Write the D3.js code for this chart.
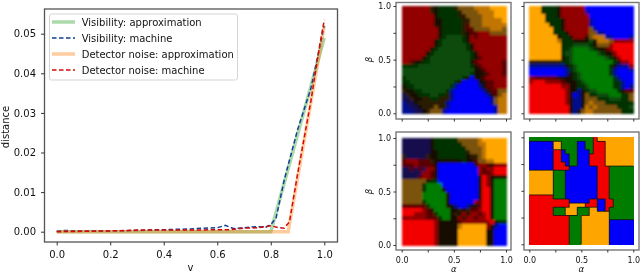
<!DOCTYPE html>
<html>
<head>
<meta charset="utf-8">
<script src="https://d3js.org/d3.v7.min.js"></script>
<style>
  html, body { margin: 0; padding: 0; background: #fff; }
  svg { display: block; font-family: "DejaVu Sans", sans-serif; filter: blur(0.4px); }
  .tick line { stroke: #333; }
  .tick text { fill: #111; }
</style>
</head>
<body>
<div id="chart"></div>
<script>
// line chart values
var visApproxV = [0, 0.8, 1];
var visApproxD = [0, 0, 0.049];
var detApproxV = [0, 0.865, 1];
var detApproxD = [0, 0, 0.052];

var visMachineV = [0, 0.02, 0.1, 0.2, 0.3, 0.4, 0.45, 0.5, 0.55, 0.6, 0.63, 0.66, 0.7, 0.75, 0.78, 0.8, 0.82, 0.85, 0.9, 0.95, 1];
var visMachineD = [0.0001, 0.0003, 0.0002, 0.0002, 0.0003, 0.0005, 0.0006, 0.0007, 0.0009, 0.001, 0.0016, 0.0008, 0.001, 0.0013, 0.0011, 0.0018, 0.0035, 0.013, 0.0257, 0.0362, 0.052];
var detMachineV = [0, 0.1, 0.2, 0.3, 0.4, 0.5, 0.6, 0.65, 0.7, 0.75, 0.8, 0.83, 0.85, 0.87, 0.9, 0.95, 0.98, 1];
var detMachineD = [0, 0.0001, 0.0002, 0.0004, 0.0004, 0.0004, 0.0005, 0.0005, 0.0009, 0.001, 0.0015, 0.001, 0.0009, 0.0025, 0.0145, 0.033, 0.046, 0.0535];

var vTicks = [0, 0.2, 0.4, 0.6, 0.8, 1];
var distTicks = [0, 0.01, 0.02, 0.03, 0.04, 0.05];
var legendLabels = ["Visibility: approximation", "Visibility: machine", "Detector noise: approximation", "Detector noise: machine"];

// heatmap cells, one letter per cell, top row is beta = 1
var palette = {
  r: "#f20000", d: "#920606", m: "#5a0404",
  g: "#007c00", h: "#0b4c0b", j: "#063006",
  b: "#0000fa", n: "#000a8c", u: "#12104e",
  o: "#ffa500", p: "#c07602", q: "#7c520e",
  k: "#140804", s: "#2a1a05"
};

var gridA = [
  "dddddddskjjjjsqqqqppppoooo",
  "dddddddskjjjjjsqqqqppppooo",
  "ddddddddkjjjjjssqqqqpppooo",
  "ddddddddkkjjjjjssqqqpppppo",
  "ddddddddkkjjjjjsmqqqpppppp",
  "dddddddddkjjjjjsmmqqqqpppq",
  "dddddddddkjjjjjskmmdddqqqq",
  "dddddddddkjhhhhjkdmddddddd",
  "ddddddddkjhhhhhjkddddddddd",
  "ddddddddkjhhhhhhjkdddddddd",
  "dddddddkjhhhhhhhjkdddddddd",
  "ddddddkjhhhhhhhhhjkddddddd",
  "dddddkjhhhhhhhhhhjkmdddddd",
  "ddmkkjjhhhhhhhhhhkmddddddm",
  "jjjjhhhhhhhhhhhhhjkmdddddm",
  "hhhhhhhhhhhhhhhhhhkkmddddm",
  "hhhhhhhhhhhhhhhhhjkkkmdddm",
  "jhhhhhhhhhhhhhhjkbkkmddddd",
  "jjhhhhhhhhhhhjkbbbbkkmmddd",
  "kjjhhhhhhhhhjnbbbbbnkmmddd",
  "skkjjhhhhhhjnbbbbbbbnkmmqq",
  "uskkjjjhhjjsnbbbbbbbbnkmqp",
  "uuskkssjjsssnbbbbbbbbbnqpp",
  "nuuksssssssnbbbbbbbbbbnqpp",
  "nnuuksssqssnbbbbbbbbbbbnpp",
  "nnnuuksqqqnbbbbbbbbbbbbnpp"
];
var gridB = [
  "ooojjjjkddddddbbbbbbbbbbbb",
  "ooojjjjkddddddnbbbbbbbbbbb",
  "oooojjjkdddddddbbbbbbbbbbb",
  "oooojjjjkddddddnbbbbbbbbbb",
  "ooooojjjkddddddnbbbbbbbbbb",
  "oooooojjkddddddqnbbbbbbbbb",
  "oooooojjjkdddddqqnnbbbbbbb",
  "oooooookjjkdddkqpppnnbbbbn",
  "ooooooopjjjkkkkhkpppqddddd",
  "oooooooojjjhhhhjkqqqdrrrrr",
  "oooooooojjhgggghjkkmdrrrrr",
  "oooooooojhhgggggghjkkdrrrr",
  "ooooooookjhgggggggghjkdrrr",
  "ssssssssjjhggggggggggjkddr",
  "nnnnnnnnnkjhggggggggjknnnd",
  "bbbbbbbbbnjhggggggggjnbbbn",
  "bbbbbbbbbnkjhgggggggjnbbbb",
  "dmmmmmmkkkkjhggggggggjnbbb",
  "drrrddddmkkkjhgggggggjjnbb",
  "rrrrrrrrddkkjjhggggggjjnbn",
  "rrrrrrrrrdkknkjhhgggggjkmm",
  "rrrrrrrrrdkbnkqjjhhhgggjjq",
  "rrrrrrrrrdknnkqqqjjjhhhjjq",
  "rrrrrrrrrdknnkqpqqqjjjjjjj",
  "rrrrrrrrrrknnkpqpqqqqqjjjh",
  "rrrrrrrrrrknkqppqqqqqqqjjj"
];
var gridC = [
  "uuuuuuukjjjjjjqqqqqpoooooo",
  "uuuuuuukjjjjjjjqqqqppooooo",
  "uuuuuuukjjjjjjjjqqqqpooooo",
  "uuuuuuukkjjjjjjjsqqqpooooo",
  "suuuuuskkjjjjjjjkssqpooooo",
  "mdddmmmskkkkkkkjkkmqqppooo",
  "mmmdmmmmkbbbbbbbbbkddmkddd",
  "uumumuddkbbbbbbbbbbdmddrrr",
  "uuuuuddmkbbbbbbbbbbdmmdrrr",
  "uuuumddmkbbbbbbbbbbkrdkkkk",
  "qqqqqqkjjbbbbbbbbbbkrdkggg",
  "qqqqqjggggbbbbbbbbbkrdkggg",
  "qqqqqjggggkbbbbbbbbkrrkggg",
  "qqqqqggggggkbbbbbbbkrrkggg",
  "qqqqqggggggkbbbbbbbkrrkggg",
  "qqqqqjgggggkbbbbbbdmrrkggg",
  "mmmmmmjggggkknbbnkkmrrkggg",
  "rrrrrdmkggggkksksmmdrrkggg",
  "rrrdddmmjgggkskdkddmdrkggg",
  "ddddddmmmjggkkdkddmddrkggg",
  "rrrrrrrrdkkkkkmdddddddrkjj",
  "rrrrrrrrdkkkkkpoooooodknbb",
  "rrrrrrrrdkkkkkoooooookkbbb",
  "rrrrrrrrdkkkkkoooooookkbbb",
  "rrrrrrrrdkkkkkoooooookkbbb",
  "rrrrrrrrdkkkkkoooooookkbbb"
];
var gridD = [
  "ggggggggggggggggrooooooooo",
  "bbbbbbooggggbbggrrrooooooo",
  "bbbbbbooggggbbggrrrooooooo",
  "bbbbbbrrbgggbbbgrrrooooooo",
  "bbbbbbrrbbggbbbrrrrooooooo",
  "bbbbbbrrbbggbbbrrrrooooooo",
  "bbbbbbrrrbggbbbrrrrooooooo",
  "bbbbbbrrrrbbbbbbbrrrgggggg",
  "oooooogggbbbbbbbbrrrgggggg",
  "oooooogggbbbbbbbbrrrgggggg",
  "oooooogggbbbbbbbbrrrgggggg",
  "oooooogggbbbbbbbbrrrgggggg",
  "oooooogggbbbbbbbbrrrgggggg",
  "oooooogggbbbbbbbbrrrgggggg",
  "rrrrrrgggbbbbbbbbrrrgggggg",
  "rrrrrrrrrrbbbbbrrbbrrggggg",
  "rrrrrrrrrroooorrrbbrrggggg",
  "rrrrrrgggooogggoobbrgggggg",
  "rrrrrrgggooogggooooogggggg",
  "rrrrrrrrrrgggooooooogggggg",
  "rrrrrrrrrrgggooooooobbbbbb",
  "rrrrrrrrrrgggooooooobbbbbb",
  "rrrrrrrrrrgggooooooobbbbbb",
  "rrrrrrrrrrgggooooooobbbbbb",
  "rrrrrrrrrrgggooooooobbbbbb",
  "rrrrrrrrrrgggooooooobbbbbb"
];
var unitTicks = [0, 0.25, 0.5, 0.75, 1];
var unitLabels = [0, 0.5, 1];

var svg = d3.select("#chart")
  .append("svg")
    .attr("width", 640)
    .attr("height", 274);

// left line chart
var x = d3.scaleLinear().domain([0, 1]).range([56.7, 324.3]);
var y = d3.scaleLinear().domain([0, 0.05]).range([231.7, 33.7]);

svg.append("rect")
  .attr("x", 44.5).attr("y", 9)
  .attr("width", 293).attr("height", 233)
  .attr("fill", "none")
  .attr("stroke", "#555")
  .attr("stroke-width", 1.3);

svg.append("g")
    .attr("transform", "translate(0,242)")
    .call(d3.axisBottom(x).tickValues(vTicks).tickFormat(d3.format(".1f")).tickSize(3.5).tickPadding(5.5))
    .call(function(g) { g.select(".domain").remove(); })
    .attr("font-family", null)
    .attr("font-size", 10);

svg.append("g")
    .attr("transform", "translate(44.5,0)")
    .call(d3.axisLeft(y).tickValues(distTicks).tickFormat(d3.format(".2f")).tickSize(3.5).tickPadding(5))
    .call(function(g) { g.select(".domain").remove(); })
    .attr("font-family", null)
    .attr("font-size", 10);

svg.append("text")
  .attr("transform", "translate(9,127) rotate(-90)")
  .attr("text-anchor", "middle")
  .attr("font-size", 10)
  .attr("fill", "#111")
  .text("distance");

svg.append("text")
  .attr("x", 190.5).attr("y", 271)
  .attr("text-anchor", "middle")
  .attr("font-size", 10)
  .attr("fill", "#111")
  .text("v");

var line = d3.line()
  .x(function(d) { return x(d[0]); })
  .y(function(d) { return y(d[1]); });

var lines = [
  {v: visApproxV, d: visApproxD, color: "#2ca02c", width: 3.5, opacity: 0.4, dash: null},
  {v: visMachineV, d: visMachineD, color: "#123f96", width: 1.5, opacity: 1, dash: "4.5,2.5"},
  {v: detApproxV, d: detApproxD, color: "#ff7f0e", width: 3.5, opacity: 0.4, dash: null},
  {v: detMachineV, d: detMachineD, color: "#d40808", width: 1.5, opacity: 1, dash: "4.5,2.5"}
];

svg.append("g")
  .selectAll("path")
  .data(lines)
  .enter()
  .append("path")
    .attr("d", function(s) { return line(d3.zip(s.v, s.d)); })
    .attr("fill", "none")
    .attr("stroke", function(s) { return s.color; })
    .attr("stroke-width", function(s) { return s.width; })
    .attr("stroke-opacity", function(s) { return s.opacity; })
    .attr("stroke-dasharray", function(s) { return s.dash; });

// legend
svg.append("rect")
  .attr("x", 49.5).attr("y", 14)
  .attr("width", 188).attr("height", 66)
  .attr("rx", 2)
  .attr("fill", "#fff")
  .attr("fill-opacity", 0.8)
  .attr("stroke", "#d5d5d5");

var legendRow = d3.scalePoint().domain(d3.range(4)).range([22, 70]);

var legend = svg.append("g")
  .selectAll("g")
  .data(lines)
  .enter()
  .append("g")
    .attr("transform", function(s, i) { return "translate(0," + legendRow(i) + ")"; });

legend.append("line")
  .attr("x1", 52).attr("x2", 75)
  .attr("stroke", function(s) { return s.color; })
  .attr("stroke-width", function(s) { return s.width; })
  .attr("stroke-opacity", function(s) { return s.opacity; })
  .attr("stroke-dasharray", function(s) { return s.dash; });

legend.append("text")
  .attr("x", 81.7).attr("y", 3.5)
  .attr("font-size", 10)
  .attr("fill", "#111")
  .text(function(s, i) { return legendLabels[i]; });

// heatmaps
var defs = svg.append("defs");
[["blur12", 1.2], ["blur09", 0.9], ["blur04", 0.4]].forEach(function(f) {
  defs.append("filter").attr("id", f[0])
      .attr("x", "-2%").attr("y", "-2%").attr("width", "104%").attr("height", "104%")
    .append("feGaussianBlur").attr("stdDeviation", f[1]);
});

var panels = [
  {grid: gridA, left: 396, top: 2.5, h: 116.5, x0: 401.7, x1: 506, y0: 113.3, y1: 6, xText: false, yText: true, blur: "blur12"},
  {grid: gridB, left: 524, top: 2.5, h: 116.5, x0: 529.3, x1: 633.3, y0: 113.3, y1: 6, xText: false, yText: false, blur: "blur12"},
  {grid: gridC, left: 396, top: 132, h: 118, x0: 401.7, x1: 506, y0: 245, y1: 138, xText: true, yText: true, blur: "blur09"},
  {grid: gridD, left: 524, top: 132, h: 118, x0: 529.3, x1: 633.3, y0: 244.3, y1: 137.3, xText: true, yText: false, blur: "blur04", outline: true}
];

panels.forEach(function(p) {
  var px = d3.scaleLinear().domain([0, 1]).range([p.x0, p.x1]);
  var py = d3.scaleLinear().domain([0, 1]).range([p.y0, p.y1]);
  var n = p.grid.length;
  var cells = [];
  p.grid.forEach(function(row, r) {
    row.split("").forEach(function(c, i) {
      cells.push({a: i / n, b: 1 - (r + 1) / n, c: c, right: row[i + 1], below: r + 1 < n ? p.grid[r + 1][i] : undefined});
    });
  });

  var layer = svg.append("g").attr("filter", "url(#" + p.blur + ")");

  layer.selectAll("rect")
    .data(cells)
    .enter()
    .append("rect")
      .attr("x", function(d) { return px(d.a); })
      .attr("y", function(d) { return py(d.b + 1 / n); })
      .attr("width", px(1 / n) - px(0) + 0.5)
      .attr("height", py(0) - py(1 / n) + 0.5)
      .attr("shape-rendering", "crispEdges")
      .attr("fill", function(d) { return palette[d.c]; });

  // thin dark borders where two regions meet
  if (p.outline) {
    layer.selectAll("line.vert")
      .data(cells.filter(function(d) { return d.right && d.right != d.c; }))
      .enter()
      .append("line")
        .attr("class", "vert")
        .attr("x1", function(d) { return px(d.a + 1 / n); })
        .attr("x2", function(d) { return px(d.a + 1 / n); })
        .attr("y1", function(d) { return py(d.b); })
        .attr("y2", function(d) { return py(d.b + 1 / n); })
        .attr("stroke", "#111")
        .attr("stroke-width", 0.8);
    layer.selectAll("line.horiz")
      .data(cells.filter(function(d) { return d.below && d.below != d.c; }))
      .enter()
      .append("line")
        .attr("class", "horiz")
        .attr("x1", function(d) { return px(d.a); })
        .attr("x2", function(d) { return px(d.a + 1 / n); })
        .attr("y1", function(d) { return py(d.b); })
        .attr("y2", function(d) { return py(d.b); })
        .attr("stroke", "#111")
        .attr("stroke-width", 0.8);
  }

  svg.append("rect")
    .attr("x", p.left).attr("y", p.top)
    .attr("width", 115).attr("height", p.h)
    .attr("fill", "none")
    .attr("stroke", "#777")
    .attr("stroke-width", 1.4);

  var fmt = function(d) { return unitLabels.indexOf(d) >= 0 ? d3.format(".1f")(d) : ""; };

  svg.append("g")
      .attr("transform", "translate(0," + (p.top + p.h) + ")")
      .call(d3.axisBottom(px).tickValues(unitTicks).tickSize(2.5).tickPadding(5).tickFormat(p.xText ? fmt : ""))
      .call(function(g) { g.select(".domain").remove(); })
      .attr("font-family", null)
      .attr("font-size", 8);

  svg.append("g")
      .attr("transform", "translate(" + p.left + ",0)")
      .call(d3.axisLeft(py).tickValues(unitTicks).tickSize(2.5).tickPadding(2.5).tickFormat(p.yText ? fmt : ""))
      .call(function(g) { g.select(".domain").remove(); })
      .attr("font-family", null)
      .attr("font-size", 8);

  if (p.xText) {
    svg.append("text")
      .attr("x", (p.x0 + p.x1) / 2).attr("y", 272)
      .attr("text-anchor", "middle")
      .attr("font-size", 8.5)
      .attr("font-style", "italic")
      .attr("fill", "#111")
      .text("α");
  }
  if (p.yText) {
    svg.append("text")
      .attr("transform", "translate(372," + (p.y0 + p.y1) / 2 + ") rotate(-90)")
      .attr("text-anchor", "middle")
      .attr("font-size", 8.5)
      .attr("font-style", "italic")
      .attr("fill", "#111")
      .text("β");
  }
});
</script>
</body>
</html>
